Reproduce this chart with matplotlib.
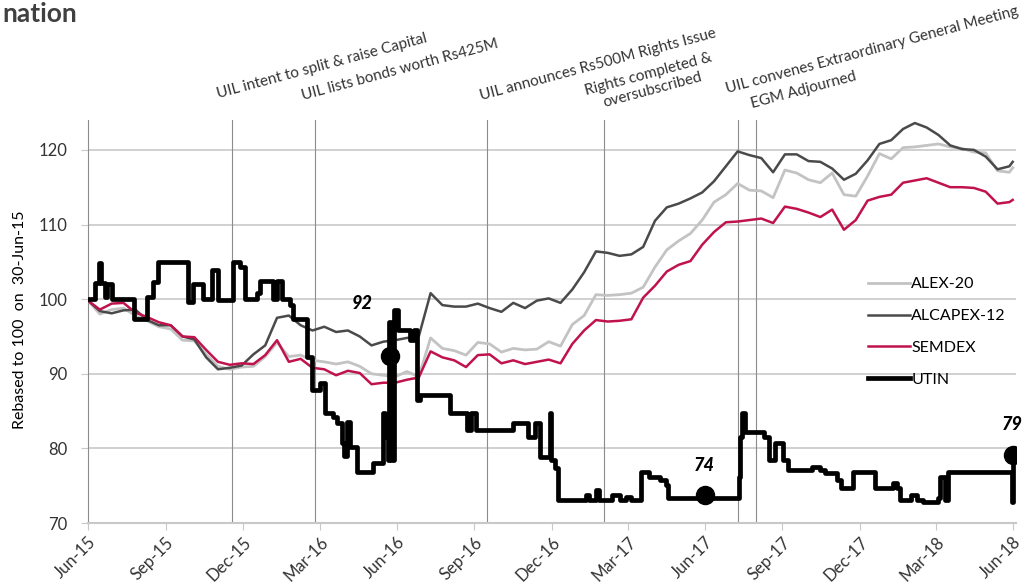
import pandas as pd
import matplotlib.pyplot as plt
import matplotlib.dates as mdates

plt.rcParams['font.family'] = ['Lato', 'DejaVu Sans']

# index series, one reading every 14 days from 30-Jun-15, plus the last day
index_dates = list(pd.date_range('2015-06-30', periods=79, freq='14D')) + [pd.Timestamp('2018-06-30')]

alex20 = [99.8, 98.0, 98.6, 98.8, 97.8, 97.1, 96.3, 96.0, 94.5, 94.4,
          92.6, 91.0, 90.6, 90.9, 91.0, 92.3, 94.2, 92.3, 92.5, 91.8,
          91.6, 91.3, 91.6, 91.0, 90.0, 89.8, 89.6, 90.3, 89.6, 94.8,
          93.4, 93.1, 92.5, 94.2, 94.0, 92.9, 93.4, 93.2, 93.3, 94.3,
          93.7, 96.6, 97.8, 100.6, 100.5, 100.6, 100.8, 101.6, 104.3, 106.6,
          107.8, 108.8, 110.6, 113.0, 114.0, 115.5, 114.6, 114.5, 113.6, 117.3,
          116.9, 116.0, 115.6, 116.9, 114.0, 113.8, 116.5, 119.5, 118.8, 120.3,
          120.4, 120.6, 120.8, 120.4, 120.2, 119.7, 119.6, 117.2, 117.0, 117.6]

alcapex12 = [99.8, 98.4, 98.1, 98.5, 98.6, 97.2, 96.5, 96.5, 95.0, 94.6,
             92.2, 90.6, 90.8, 91.1, 92.6, 93.8, 97.5, 97.8, 96.5, 95.8,
             96.3, 95.6, 95.8, 95.0, 93.8, 94.3, 94.5, 94.8, 95.0, 100.8,
             99.2, 99.0, 99.0, 99.4, 98.8, 98.3, 99.5, 98.8, 99.8, 100.1,
             99.5, 101.3, 103.6, 106.4, 106.2, 105.8, 106.0, 107.0, 110.5, 112.3,
             112.8, 113.5, 114.3, 115.8, 117.8, 119.8, 119.3, 118.9, 117.0, 119.4,
             119.4, 118.5, 118.4, 117.5, 116.0, 116.8, 118.6, 120.8, 121.3, 122.8,
             123.6, 123.0, 122.0, 120.6, 120.1, 120.0, 119.1, 117.4, 117.8, 118.4]

semdex = [99.8, 98.6, 99.4, 99.5, 98.2, 97.6, 96.9, 96.5, 95.0, 94.9,
          93.2, 91.6, 91.2, 91.4, 91.3, 92.5, 94.5, 91.6, 92.0, 90.8,
          90.6, 89.8, 90.4, 90.1, 88.6, 88.8, 88.8, 89.2, 89.5, 93.0,
          92.2, 91.8, 90.9, 92.5, 92.6, 91.4, 91.8, 91.3, 91.6, 91.9,
          91.4, 94.0, 95.8, 97.2, 97.0, 97.1, 97.3, 100.2, 101.8, 103.7,
          104.6, 105.1, 107.3, 109.0, 110.3, 110.4, 110.6, 110.8, 110.2, 112.4,
          112.1, 111.6, 111.0, 112.0, 109.3, 110.6, 113.2, 113.7, 114.0, 115.6,
          115.9, 116.2, 115.6, 115.0, 115.0, 114.9, 114.4, 112.8, 113.0, 113.3]

# UTIN moves in steps: date of each change and new level
utin_dates = ['2015-06-30', '2015-07-08', '2015-07-13', '2015-07-15', '2015-07-20', '2015-07-22',
              '2015-07-28', '2015-08-24', '2015-09-08', '2015-09-15', '2015-09-21', '2015-10-27',
              '2015-11-01', '2015-11-13', '2015-11-24', '2015-12-01', '2015-12-19', '2015-12-27',
              '2016-01-02', '2016-01-16', '2016-01-20', '2016-02-04', '2016-02-09', '2016-02-15',
              '2016-02-24', '2016-02-28', '2016-03-15', '2016-03-21', '2016-03-31', '2016-04-06',
              '2016-04-15', '2016-04-20', '2016-04-26', '2016-04-28', '2016-05-02', '2016-05-05',
              '2016-05-14', '2016-06-02', '2016-06-14', '2016-06-16', '2016-06-19', '2016-06-21',
              '2016-06-23', '2016-06-27', '2016-07-01', '2016-07-16', '2016-07-20', '2016-07-24',
              '2016-07-28', '2016-09-01', '2016-09-21', '2016-09-26', '2016-10-02', '2016-11-15',
              '2016-12-03', '2016-12-11', '2016-12-17', '2016-12-28', '2016-12-30', '2017-01-04',
              '2017-01-07', '2017-02-09', '2017-02-13', '2017-02-21', '2017-02-25', '2017-03-12',
              '2017-03-21', '2017-03-29', '2017-04-04', '2017-04-15', '2017-04-25', '2017-05-08',
              '2017-05-15', '2017-05-18', '2017-08-09', '2017-08-11', '2017-08-13', '2017-08-17',
              '2017-09-08', '2017-09-14', '2017-09-21', '2017-10-01', '2017-10-07', '2017-11-04',
              '2017-11-14', '2017-11-20', '2017-12-04', '2017-12-08', '2017-12-23', '2018-01-18',
              '2018-02-08', '2018-02-13', '2018-02-16', '2018-03-01', '2018-03-09', '2018-03-16',
              '2018-04-03', '2018-04-05', '2018-04-11', '2018-04-14', '2018-06-29', '2018-06-30']
utin = [100.0, 102.2, 104.8, 102.2, 100.3, 102.0,
        100.0, 97.4, 100.3, 102.3, 105.0, 99.6,
        102.0, 100.0, 103.9, 99.9, 105.0, 104.3,
        100.0, 100.8, 102.4, 100.0, 102.4, 100.0,
        99.2, 97.3, 92.3, 87.8, 88.8, 84.7,
        84.2, 83.4, 80.7, 79.0, 83.5, 80.2,
        76.8, 78.0, 84.7, 81.5, 78.5, 97.0,
        78.4, 98.5, 95.9, 94.5, 95.9, 86.5,
        87.2, 84.7, 82.5, 84.7, 82.5, 83.4,
        81.5, 83.4, 78.8, 84.7, 78.4, 77.4,
        73.1, 73.8, 73.1, 74.4, 73.1, 73.8,
        73.1, 73.5, 73.1, 76.8, 76.2, 75.8,
        75.1, 73.4, 76.2, 81.5, 84.7, 82.2,
        81.5, 78.4, 80.7, 78.4, 77.1, 77.5,
        77.1, 76.7, 75.8, 74.7, 76.8, 74.7,
        75.4, 74.7, 73.1, 73.8, 73.1, 72.8,
        73.4, 76.2, 73.1, 76.8, 72.8, 79.1]

# highlighted UTIN prices
mark_dates = ['2016-06-22', '2017-06-30', '2018-06-30']
mark_values = [92.4, 73.8, 79.1]
mark_labels = ['92', '74', '79']

# company events
event_dates = ['2015-12-18', '2016-03-25', '2016-10-15', '2017-03-02', '2017-08-08', '2017-08-30']
event_texts = ['UIL intent to split & raise Capital',
               'UIL lists bonds worth Rs425M',
               'UIL announces Rs500M Rights Issue',
               'Rights completed &\noversubscribed',
               'UIL convenes Extraordinary General Meeting',
               'EGM Adjourned']

fig = plt.figure(figsize=(10.25, 5.87), dpi=100)
ax = fig.add_axes([0.0859, 0.1090, 0.9054, 0.6865])

ax.plot(index_dates, alex20, color='#c3c3c3', lw=2.0, label='ALEX-20', zorder=3)
ax.plot(index_dates, alcapex12, color='#4a4a4a', lw=1.8, label='ALCAPEX-12', zorder=3)
ax.plot(index_dates, semdex, color='#c0134c', lw=1.8, label='SEMDEX', zorder=4)
ax.plot(pd.to_datetime(utin_dates), utin, color='black', lw=3.4, drawstyle='steps-post',
        label='UTIN', zorder=5)

ax.plot(pd.to_datetime(mark_dates), mark_values, 'o', color='black', ms=13, zorder=6)
offsets = [(-20, 38), (0, 21), (0, 22)]
for d, v, lbl, off in zip(pd.to_datetime(mark_dates), mark_values, mark_labels, offsets):
    ax.annotate(lbl, (d, v), xytext=off, textcoords='offset points', ha='center', va='center',
                fontsize=13, fontweight='black', fontstyle='italic', color='black',
                annotation_clip=False)

for d in pd.to_datetime(event_dates):
    ax.axvline(d, color='#8c8c8c', lw=0.8, zorder=1)

# event captions, slanted above the plot
label_pos = [('2015-12-01', 127.0, 'left', 'baseline'),
             ('2016-03-11', 126.7, 'left', 'baseline'),
             ('2016-10-08', 126.7, 'left', 'baseline'),
             ('2017-04-27', 129.1, 'center', 'center'),
             ('2017-07-27', 127.6, 'left', 'baseline'),
             ('2017-08-25', 125.6, 'left', 'baseline')]
for (d, y, ha, va), txt in zip(label_pos, event_texts):
    ax.text(pd.Timestamp(d), y, txt, rotation=15, rotation_mode='anchor', ha=ha, va=va,
            multialignment='center', fontsize=11, color='#333333', clip_on=False)

ax.set_xlim(pd.Timestamp('2015-06-30'), pd.Timestamp('2018-07-04'))
ax.set_ylim(70, 124)
ax.set_yticks([70, 80, 90, 100, 110, 120])
ax.set_xticks(pd.date_range('2015-06-30', '2018-06-30', freq='QE'))
ax.xaxis.set_major_formatter(mdates.DateFormatter('%b-%y'))

ax.yaxis.grid(True, color='#c8c8c8', lw=1.2)
ax.set_axisbelow(True)
for s in ['top', 'right']:
    ax.spines[s].set_visible(False)
ax.spines['left'].set_color('#8c8c8c')
ax.spines['left'].set_linewidth(0.8)
ax.spines['bottom'].set_color('#c8c8c8')
ax.spines['bottom'].set_linewidth(1.5)

ax.tick_params(axis='y', length=5, color='#c8c8c8', pad=10, labelsize=12, labelcolor='#333333')
ax.tick_params(axis='x', length=5, color='#c8c8c8', pad=3, labelsize=12, labelcolor='#333333')
plt.setp(ax.get_xticklabels(), rotation=45, ha='right', rotation_mode='anchor')

ax.legend(loc='upper left', bbox_to_anchor=(0.8405, 0.61), frameon=False, fontsize=11.5,
          handlelength=2.6, handletextpad=0.1, labelspacing=1.1, borderpad=0, borderaxespad=0)

fig.text(20 / 1025, 1 - 320 / 587, 'Rebased to 100  on  30-Jun-15', rotation=90,
         ha='center', va='center', fontsize=11.5)
fig.text(0.002, 0.962, 'nation', ha='left', va='baseline', fontsize=19, fontweight='bold',
         color='#404040')

fig.savefig('out.png', dpi=100)
